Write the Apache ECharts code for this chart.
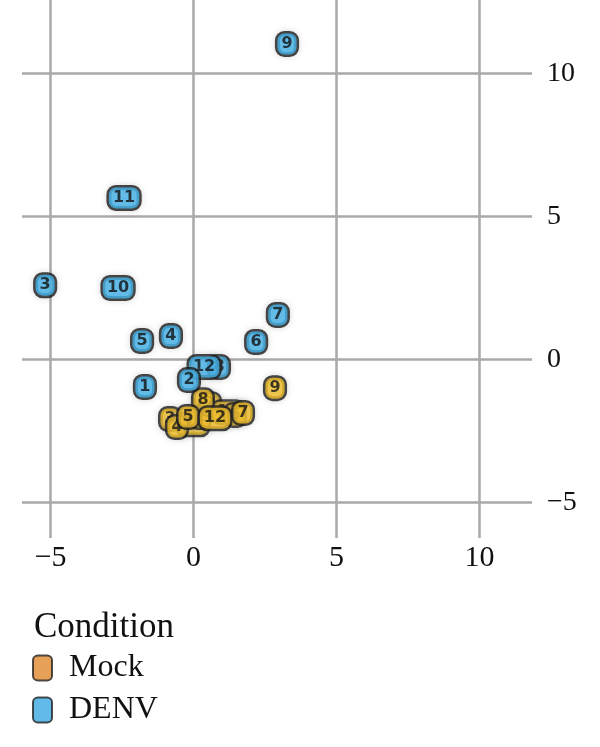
<!DOCTYPE html>
<html>
<head>
<meta charset="utf-8">
<script src="https://cdn.jsdelivr.net/npm/echarts@6/dist/echarts.min.js"></script>
<style>
  html, body { margin: 0; padding: 0; background: #fff; }
  #chart { width: 600px; height: 747px; }
</style>
</head>
<body>
<div id="chart"></div>
<script>
// sample ids and coordinates
const mockIds = ["3", "11", "1", "2", "10", "6", "9", "8", "4", "5", "7", "12"];
const mockX = [-0.82, -0.02, 0.23, 0.58, 1.21, 1.45, 2.85, 0.33, -0.58, -0.19, 1.73, 0.75];
const mockY = [-2.08, -2.26, -2.01, -1.56, -1.84, -1.94, -1.0, -1.42, -2.36, -2.01, -1.87, -2.05];

const denvIds = ["9", "11", "3", "10", "7", "5", "4", "6", "8", "12", "2", "1"];
const denvX = [3.27, -2.43, -5.19, -2.64, 2.95, -1.8, -0.79, 2.19, 0.89, 0.37, -0.16, -1.7];
const denvY = [11.03, 5.65, 2.6, 2.5, 1.56, 0.65, 0.82, 0.61, -0.26, -0.26, -0.72, -0.96];

const xTicks = [-5, 0, 5, 10];
const yTicks = [-5, 0, 5, 10];

const serif = "'Liberation Serif', 'DejaVu Serif', serif";
const gridColor = "#a9a9a9";

const chart = echarts.init(document.getElementById("chart"));

const toPoints = (ids, xs, ys) => ids.map((id, i) => [xs[i], ys[i], id]);
const minus = (v) => String(v).replace("-", "\u2212");

const labelStyle = (fill) => ({
  show: true,
  position: "inside",
  formatter: (p) => p.value[2],
  color: "#111",
  fontFamily: "'DejaVu Sans', sans-serif",
  fontWeight: "bold",
  fontSize: 16,
  backgroundColor: fill,
  borderColor: "#111",
  borderWidth: 2.5,
  borderRadius: 7,
  padding: [3, 4, 2, 4],
  shadowColor: "rgba(140,140,140,0.35)",
  shadowBlur: 6,
});

// ticks are invisible, they only place the grid lines
const hiddenTicks = (values) => ({
  show: true,
  customValues: values,
  length: 0,
  lineStyle: { color: "rgba(0,0,0,0)" },
});

const option = {
  animation: false,
  title: {
    text: "Condition",
    left: 29,
    top: 605,
    textStyle: { fontFamily: serif, fontSize: 35, fontWeight: "normal", color: "#111" },
  },
  legend: {
    orient: "vertical",
    left: 27,
    top: 647,
    itemWidth: 19,
    itemHeight: 25,
    itemGap: 10,
    icon: "roundRect",
    textStyle: { fontFamily: serif, fontSize: 32, color: "#111", padding: [0, 0, 0, 12] },
    data: [
      { name: "Mock", itemStyle: { color: "#e0882e", borderColor: "#222", borderWidth: 2 } },
      { name: "DENV", itemStyle: { color: "#3aa9e2", borderColor: "#222", borderWidth: 2 } },
    ],
  },
  grid: { left: 22, right: 68, top: 0, bottom: 209 },
  xAxis: {
    type: "value",
    min: -6,
    max: 11.84,
    axisLine: { show: false },
    axisTick: hiddenTicks(xTicks),
    axisLabel: {
      customValues: xTicks,
      margin: 5,
      fontFamily: serif,
      fontSize: 30,
      color: "#111",
      formatter: minus,
    },
    splitLine: { show: true, lineStyle: { color: gridColor, width: 2.5 } },
  },
  yAxis: {
    type: "value",
    position: "right",
    min: -6.24,
    max: 12.57,
    axisLine: { show: false },
    axisTick: hiddenTicks(yTicks),
    axisLabel: {
      customValues: yTicks,
      margin: 15,
      fontFamily: serif,
      fontSize: 28,
      color: "#111",
      formatter: minus,
    },
    splitLine: { show: true, lineStyle: { color: gridColor, width: 2.5 } },
  },
  series: [
    {
      name: "Mock",
      type: "scatter",
      symbolSize: 1,
      itemStyle: { color: "#e0882e" },
      label: labelStyle("#f5c22a"),
      data: toPoints(mockIds, mockX, mockY),
    },
    {
      name: "DENV",
      type: "scatter",
      symbolSize: 1,
      itemStyle: { color: "#3aa9e2" },
      label: labelStyle("#45b3ea"),
      data: toPoints(denvIds, denvX, denvY),
    },
  ],
};

chart.setOption(option);
</script>
</body>
</html>
